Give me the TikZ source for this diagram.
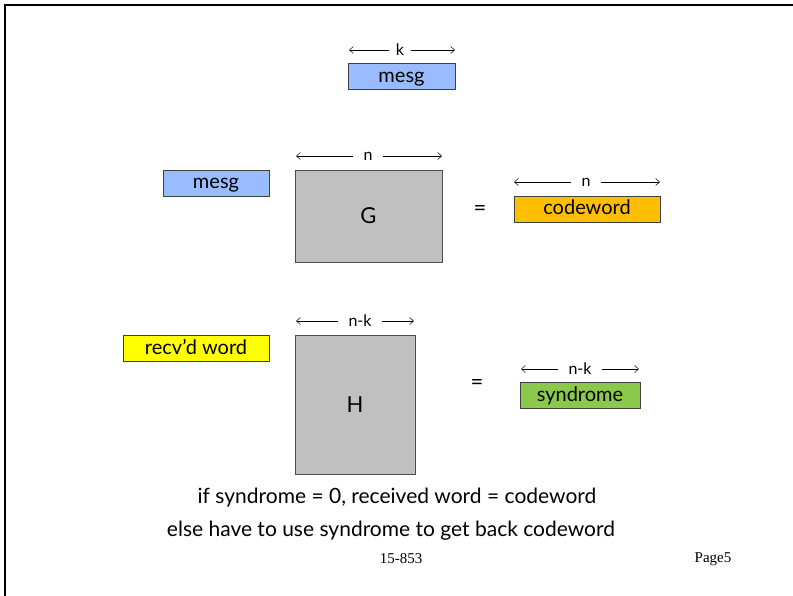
\documentclass[tikz,border=0pt]{standalone}
\usepackage{fontspec}
\setmainfont{Lato}
\newfontfamily\serifpage{Liberation Serif}
\usetikzlibrary{arrows.meta}
\definecolor{mesgblue}{RGB}{153,187,255}
\definecolor{codeorange}{RGB}{255,191,0}
\definecolor{recvyellow}{RGB}{255,255,0}
\definecolor{syngreen}{RGB}{140,200,75}
\definecolor{matgray}{RGB}{192,192,192}
\begin{document}
\begin{tikzpicture}[x=1pt,y=-1pt,
  bar/.style={draw=black!75,line width=0.8pt,inner sep=0pt,minimum height=26pt,text height=15pt,text depth=3pt,font=\fontsize{20}{20}\selectfont},
  matbox/.style={draw=black!70,line width=0.9pt,fill=matgray,inner sep=0pt,font=\fontsize{22}{22}\selectfont},
  dimlabel/.style={inner sep=0pt,font=\fontsize{16}{16}\selectfont},
  dimarrow/.style={line width=0.5pt,-{Straight Barb[length=4pt,width=7pt]}},
  eqsign/.style={inner sep=0pt,font=\fontsize{22}{22}\selectfont},
  bodytext/.style={inner sep=0pt,font=\fontsize{21}{21}\selectfont},
  foot/.style={inner sep=0pt,font=\serifpage\fontsize{15}{15}\selectfont}]
\useasboundingbox (0,0) rectangle (793,596);
\fill[white] (0,0) rectangle (793,596);
% frame
\draw[line width=2.6pt] (5,596) -- (5,5) -- (793,5);

% top mesg
\node[bar,fill=mesgblue,minimum width=107pt] (m1) at (401.5,76.5) {mesg};
\coordinate (k1l) at (349,50);
\coordinate (k1r) at (455,50);
\node[dimlabel,inner xsep=7pt] (k1) at (400,50) {k};
\draw[dimarrow] (k1.west) -- (k1l);
\draw[dimarrow] (k1.east) -- (k1r);

% second row
\node[bar,fill=mesgblue,minimum width=106pt] (m2) at (216,183) {mesg};
\node[matbox,minimum width=147pt,minimum height=92pt] (G) at (368.5,216) {G};
\coordinate (nGl) at (296,156);
\coordinate (nGr) at (442,156);
\node[dimlabel,inner xsep=10pt] (nG) at (368,156) {n};
\draw[dimarrow] (nG.west) -- (nGl);
\draw[dimarrow] (nG.east) -- (nGr);
\node[eqsign] (eq1) at (480,211) {=};
\node[bar,fill=codeorange,minimum width=146pt] (cw) at (587,209) {codeword};
\coordinate (ncl) at (514,182);
\coordinate (ncr) at (660,182);
\node[dimlabel,inner xsep=10pt] (nc) at (586,182) {n};
\draw[dimarrow] (nc.west) -- (ncl);
\draw[dimarrow] (nc.east) -- (ncr);

% third row
\node[bar,fill=recvyellow,minimum width=146pt] (rw) at (196,348) {recv'd word};
\node[matbox,minimum width=120pt,minimum height=139pt] (H) at (355,404.5) {H};
\coordinate (nHl) at (296,321);
\coordinate (nHr) at (414,321);
\node[dimlabel,inner xsep=10pt] (nH) at (360,321) {n-k};
\draw[dimarrow] (nH.west) -- (nHl);
\draw[dimarrow] (nH.east) -- (nHr);
\node[eqsign] (eq2) at (477,384) {=};
\node[bar,fill=syngreen,minimum width=120pt] (sy) at (580,395) {syndrome};
\coordinate (nsl) at (521,369);
\coordinate (nsr) at (639,369);
\node[dimlabel,inner xsep=10pt] (ns) at (580,369) {n-k};
\draw[dimarrow] (ns.west) -- (nsl);
\draw[dimarrow] (ns.east) -- (nsr);

% text
\node[bodytext] (t1) at (397,498) {if syndrome = 0, received word = codeword};
\node[bodytext] (t2) at (391,531) {else have to use syndrome to get back codeword};
\node[foot] (f1) at (401,559) {15-853};
\node[foot] (f2) at (713,559) {Page5};
\end{tikzpicture}
\end{document}
